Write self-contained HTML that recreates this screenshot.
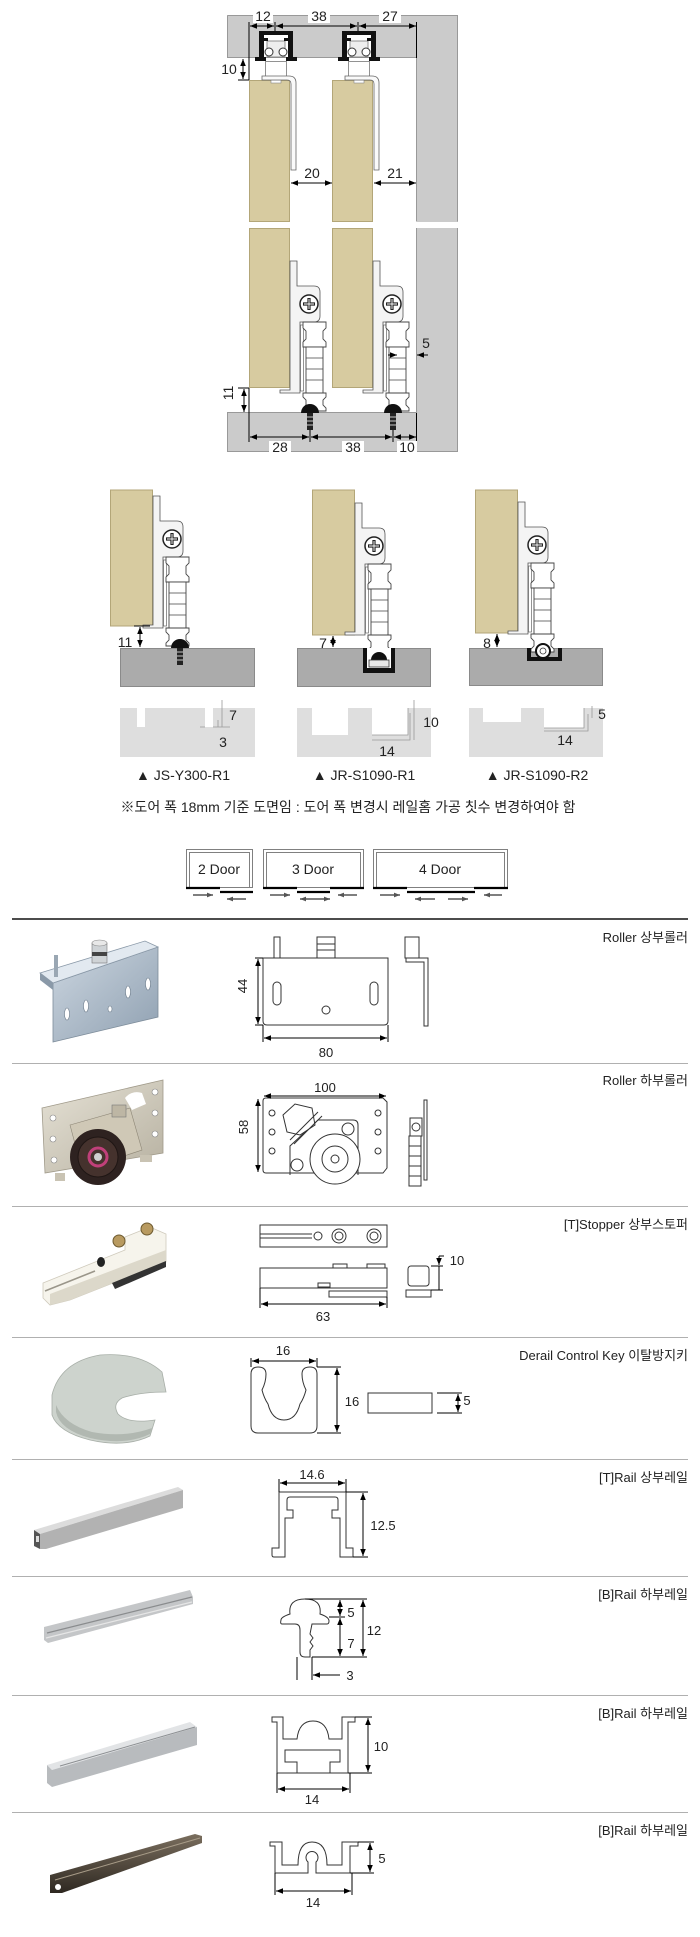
<!DOCTYPE html>
<html><head><meta charset="utf-8"><style>
html,body{margin:0;padding:0;background:#fff;}
svg{display:block;}
text{font-family:"Liberation Sans","Noto Sans CJK KR",sans-serif;fill:#222;}
</style></head><body>
<svg width="700" height="1937" viewBox="0 0 700 1937" xmlns="http://www.w3.org/2000/svg">
<defs>
<marker id="ah" viewBox="0 0 10 10" refX="10" refY="5" markerWidth="7" markerHeight="7" orient="auto-start-reverse" markerUnits="userSpaceOnUse"><path d="M0,1 L10,5 L0,9 z" fill="#000"/></marker>
<marker id="ag" viewBox="0 0 10 10" refX="10" refY="5" markerWidth="7" markerHeight="6" orient="auto-start-reverse" markerUnits="userSpaceOnUse"><path d="M0,1 L10,5 L0,9 z" fill="#555"/></marker>
<linearGradient id="steel" x1="0" y1="0" x2="1" y2="1"><stop offset="0" stop-color="#ccd6e0"/><stop offset="1" stop-color="#8fa0b1"/></linearGradient>
<linearGradient id="beige" x1="0" y1="0" x2="1" y2="1"><stop offset="0" stop-color="#e6e2d6"/><stop offset="1" stop-color="#b7b1a1"/></linearGradient>
<linearGradient id="bronze" x1="0" y1="0" x2="0" y2="1"><stop offset="0" stop-color="#7a6e5e"/><stop offset="1" stop-color="#2e2821"/></linearGradient>
<g id="hwM">
 <path d="M0,-152 H7 V-127 H24 Q30,-127 30,-121 V-97 Q30,-91 24,-91 H10 V-20 H-10 V-23 H0 Z" fill="#f4f4f4" stroke="#555" stroke-width="0.8"/>
 <circle cx="19" cy="-109" r="9" fill="#fff" stroke="#222" stroke-width="1.5"/>
 <path d="M19,-115 V-103 M13,-109 H25" stroke="#222" stroke-width="3.2"/>
 <path d="M19,-114 V-104 M14,-109 H24" stroke="#fff" stroke-width="0.9"/>
 <rect x="10.5" y="-88" width="3" height="66" fill="#fff" stroke="#666" stroke-width="0.7"/>
 <path d="M13,-91 H36 V-85 L33,-82 V-74 L36,-71 V-66 H13 V-71 L16,-74 V-82 L13,-85 Z" fill="#fff" stroke="#444" stroke-width="0.9"/>
 <rect x="16" y="-66" width="17" height="46" fill="#fff" stroke="#444" stroke-width="0.9"/>
 <path d="M16,-55 H33 M16,-44 H33 M16,-33 H33" stroke="#444" stroke-width="0.8"/>
 <path d="M13,-20 H36 V-16 L33,-13 V-8 L36,-5 V-2 H13 V-5 L16,-8 V-13 L13,-16 Z" fill="#fff" stroke="#444" stroke-width="0.9"/>
</g>
<g id="rail">
 <rect x="264" y="35" width="24" height="22" fill="#fff"/>
 <rect x="267" y="41" width="18" height="16" fill="#eee" stroke="#777" stroke-width="0.8"/>
 <path d="M259,31 H293 V57 H297 V61 H286 V57 H288 V35 H264 V57 H266 V61 H255 V57 H259 Z" fill="#111"/>
 <rect x="264" y="38" width="4" height="3" fill="#111"/><rect x="284" y="38" width="4" height="3" fill="#111"/>
 <circle cx="269" cy="52" r="4" fill="#fff" stroke="#333"/>
 <circle cx="283" cy="52" r="4" fill="#fff" stroke="#333"/>
 <rect x="265.5" y="61.5" width="21" height="18" fill="#fff" stroke="#777" stroke-width="0.8"/>
 <path d="M262,76 H289 Q296,76 296,83 V170 H291 V84 Q291,80 287,80 H262 Z" fill="#fafafa" stroke="#666" stroke-width="0.8"/>
</g>
</defs>

<!-- ================= TOP DIAGRAM ================= -->
<rect x="227" y="15" width="231" height="43" fill="#cbcbcb"/>
<rect x="417" y="58" width="41" height="164" fill="#cbcbcb"/>
<rect x="417" y="228" width="41" height="185" fill="#cbcbcb"/>
<rect x="227" y="413" width="231" height="39" fill="#cbcbcb"/>
<path d="M227.5,15.5 H457.5 V221.5 M227.5,15.5 V57.5 H416.5 V221.5" fill="none" stroke="#999"/>
<path d="M416.5,228 V412.5 H227.5 V451.5 H457.5 V228" fill="none" stroke="#999"/>

<rect x="249.5" y="80.5" width="40" height="141" fill="#d7cba0" stroke="#b3a678"/>
<rect x="249.5" y="228.5" width="40" height="159" fill="#d7cba0" stroke="#b3a678"/>
<rect x="332.5" y="80.5" width="40" height="141" fill="#d7cba0" stroke="#b3a678"/>
<rect x="332.5" y="228.5" width="40" height="159" fill="#d7cba0" stroke="#b3a678"/>
<rect x="271" y="80" width="10" height="3" fill="#fff" stroke="#888" stroke-width="0.6"/>
<rect x="354" y="80" width="10" height="3" fill="#fff" stroke="#888" stroke-width="0.6"/>

<use href="#rail"/>
<use href="#rail" transform="translate(83,0)"/>

<use href="#hwM" transform="translate(290,413)"/>
<use href="#hwM" transform="translate(373,413)"/>
<path d="M301,413 A9,9 0 0 1 319,413 Z" fill="#111"/>
<rect x="307" y="413" width="6" height="17" fill="#222"/>
<path d="M307,417 H313 M307,421 H313 M307,425 H313" stroke="#fff" stroke-width="0.8"/>
<path d="M384,413 A9,9 0 0 1 402,413 Z" fill="#111"/>
<rect x="390" y="413" width="6" height="17" fill="#222"/>
<path d="M390,417 H396 M390,421 H396 M390,425 H396" stroke="#fff" stroke-width="0.8"/>

<!-- top dims -->
<g stroke="#000" stroke-width="1" fill="none">
<line x1="249" y1="22" x2="249" y2="80"/>
<line x1="275" y1="22" x2="275" y2="31"/>
<line x1="358" y1="22" x2="358" y2="31"/>
<line x1="416.5" y1="22" x2="416.5" y2="58"/>
<line x1="250" y1="26" x2="274" y2="26" marker-start="url(#ah)" marker-end="url(#ah)"/>
<line x1="276" y1="26" x2="357" y2="26" marker-start="url(#ah)" marker-end="url(#ah)"/>
<line x1="359" y1="26" x2="416" y2="26" marker-start="url(#ah)" marker-end="url(#ah)"/>
<line x1="238" y1="80" x2="249" y2="80"/>
<line x1="243" y1="59" x2="243" y2="79" marker-start="url(#ah)" marker-end="url(#ah)"/>
<line x1="291" y1="183" x2="332" y2="183" marker-start="url(#ah)" marker-end="url(#ah)"/>
<line x1="374" y1="183" x2="416" y2="183" marker-start="url(#ah)" marker-end="url(#ah)"/>
<line x1="238" y1="388" x2="249" y2="388"/>
<line x1="244" y1="389" x2="244" y2="412" marker-start="url(#ah)" marker-end="url(#ah)"/>
<line x1="249" y1="388" x2="249" y2="442"/>
<line x1="310" y1="430" x2="310" y2="442"/>
<line x1="393" y1="430" x2="393" y2="442"/>
<line x1="416.5" y1="413" x2="416.5" y2="442"/>
<line x1="250" y1="437" x2="309" y2="437" marker-start="url(#ah)" marker-end="url(#ah)"/>
<line x1="311" y1="437" x2="392" y2="437" marker-start="url(#ah)" marker-end="url(#ah)"/>
<line x1="394" y1="437" x2="416" y2="437" marker-start="url(#ah)" marker-end="url(#ah)"/>
<line x1="388" y1="355" x2="397" y2="355" marker-end="url(#ah)"/>
<line x1="428" y1="355" x2="417" y2="355" marker-end="url(#ah)"/>
</g>
<rect x="253" y="8" width="20" height="15" fill="#fff"/>
<rect x="308" y="8" width="22" height="15" fill="#fff"/>
<rect x="379" y="8" width="22" height="15" fill="#fff"/>
<rect x="269" y="441" width="22" height="11" fill="#fff"/>
<rect x="342" y="441" width="22" height="11" fill="#fff"/>
<rect x="397" y="441" width="20" height="11" fill="#fff"/>
<g font-size="14" text-anchor="middle">
<text x="263" y="21">12</text>
<text x="319" y="21">38</text>
<text x="390" y="21">27</text>
<text x="229" y="74">10</text>
<text x="312" y="178">20</text>
<text x="395" y="178">21</text>
<text x="238" y="398" transform="rotate(-90 233 398)">11</text>
<text x="280" y="452">28</text>
<text x="353" y="452">38</text>
<text x="407" y="452">10</text>
<text x="426" y="348">5</text>
</g>

<!-- ================= MIDDLE DIAGRAMS ================= -->
<!-- blocks -->
<rect x="120.5" y="648.5" width="134" height="38" fill="#ababab" stroke="#8a8a8a"/>
<rect x="297.5" y="648.5" width="133" height="38" fill="#ababab" stroke="#8a8a8a"/>
<rect x="469.5" y="648.5" width="133" height="37" fill="#ababab" stroke="#8a8a8a"/>
<!-- doors -->
<rect x="110.5" y="490" width="42" height="136" fill="#d7cba0" stroke="#b3a678"/>
<rect x="312.5" y="490" width="42" height="145" fill="#d7cba0" stroke="#b3a678"/>
<rect x="475.5" y="490" width="42" height="143" fill="#d7cba0" stroke="#b3a678"/>
<use href="#hwM" transform="translate(153,648)"/>
<use href="#hwM" transform="translate(355,655)"/>
<use href="#hwM" transform="translate(518,654)"/>
<!-- diag1 dome + screw -->
<path d="M171,648 A9,9 0 0 1 189,648 Z" fill="#111"/>
<rect x="177" y="648" width="6" height="17" fill="#222"/>
<path d="M177,652 H183 M177,656 H183 M177,660 H183" stroke="#fff" stroke-width="0.8"/>
<!-- diag2 channel -->
<rect x="363" y="648" width="32" height="25" fill="#111"/>
<rect x="367" y="648" width="24" height="20" fill="#fff"/>
<path d="M371,660 A8,8 0 0 1 387,660 Z" fill="#111"/>
<rect x="369" y="660" width="20" height="7" fill="#e8e8e8" stroke="#333" stroke-width="0.8"/>
<!-- diag3 channel -->
<path d="M527,648 V661 H562 V648 H558 V657 H531 V648 Z" fill="#111"/>
<circle cx="543" cy="651" r="7" fill="#fff" stroke="#111" stroke-width="2"/>
<circle cx="543" cy="651" r="3" fill="#fff" stroke="#333" stroke-width="0.8"/>
<!-- middle dims -->
<g stroke="#000" stroke-width="1">
<line x1="134" y1="626" x2="150" y2="626"/>
<line x1="140" y1="627" x2="140" y2="647" marker-start="url(#ah)" marker-end="url(#ah)"/>
<line x1="333" y1="636" x2="333" y2="647" marker-start="url(#ah)" marker-end="url(#ah)"/>
<line x1="497" y1="634" x2="497" y2="647" marker-start="url(#ah)" marker-end="url(#ah)"/>
</g>
<g font-size="14" text-anchor="middle">
<text x="125" y="647">11</text>
<text x="323" y="648">7</text>
<text x="487" y="648">8</text>
</g>
<!-- profiles -->
<rect x="120" y="708" width="135" height="49" fill="#dedede"/>
<rect x="137" y="708" width="8" height="19" fill="#fff"/>
<rect x="205" y="708" width="8" height="19" fill="#fff"/>
<path d="M213,727 H230 M218,720 V727 M222,700 V727 M205,727 H200" stroke="#999" stroke-width="0.8" fill="none"/>
<rect x="297" y="708" width="134" height="49" fill="#dedede"/>
<rect x="312" y="708" width="36" height="27" fill="#fff"/>
<rect x="372" y="708" width="36" height="27" fill="#fff"/>
<path d="M372,735 H408 V708 M372,740 H410 V713 M414,700 V740" stroke="#999" stroke-width="0.8" fill="none"/>
<rect x="469" y="708" width="134" height="49" fill="#dedede"/>
<rect x="483" y="708" width="38" height="14" fill="#fff"/>
<rect x="544" y="708" width="40" height="20" fill="#fff"/>
<path d="M544,728 H584 V708 M544,731 H588 V714 M592,706 V718" stroke="#999" stroke-width="0.8" fill="none"/>
<g font-size="14" text-anchor="middle">
<text x="233" y="720">7</text>
<text x="223" y="747">3</text>
<text x="431" y="727">10</text>
<text x="387" y="756">14</text>
<text x="602" y="719">5</text>
<text x="565" y="745">14</text>
<text x="183" y="780">▲ JS-Y300-R1</text>
<text x="364" y="780">▲ JR-S1090-R1</text>
<text x="537" y="780">▲ JR-S1090-R2</text>
<text x="348" y="812">※도어 폭 18mm 기준 도면임 : 도어 폭 변경시 레일홈 가공 칫수 변경하여야 함</text>
</g>

<!-- ================= DOOR TYPES ================= -->
<g fill="none" stroke="#808080" stroke-width="1">
<rect x="186.5" y="849.5" width="66" height="38"/>
<path d="M189.5,887 V852.5 H249.5 V887"/>
<rect x="263.5" y="849.5" width="100" height="38"/>
<path d="M266.5,887 V852.5 H360.5 V887"/>
<rect x="373.5" y="849.5" width="134" height="38"/>
<path d="M376.5,887 V852.5 H504.5 V887"/>
</g>
<g stroke="#000" stroke-width="2.2">
<line x1="186" y1="888" x2="220" y2="888"/><line x1="220" y1="892" x2="253" y2="892"/>
<line x1="263" y1="888" x2="297" y2="888"/><line x1="297" y1="892" x2="330" y2="892"/><line x1="330" y1="888" x2="364" y2="888"/>
<line x1="373" y1="888" x2="407" y2="888"/><line x1="407" y1="892" x2="475" y2="892"/><line x1="474" y1="888" x2="508" y2="888"/>
</g>
<g stroke="#555" stroke-width="1.6">
<line x1="193" y1="895" x2="213" y2="895" marker-end="url(#ag)"/>
<line x1="246" y1="899" x2="227" y2="899" marker-end="url(#ag)"/>
<line x1="270" y1="895" x2="290" y2="895" marker-end="url(#ag)"/>
<line x1="300" y1="899" x2="330" y2="899" marker-start="url(#ag)" marker-end="url(#ag)"/>
<line x1="357" y1="895" x2="338" y2="895" marker-end="url(#ag)"/>
<line x1="380" y1="895" x2="400" y2="895" marker-end="url(#ag)"/>
<line x1="435" y1="899" x2="415" y2="899" marker-end="url(#ag)"/>
<line x1="448" y1="899" x2="468" y2="899" marker-end="url(#ag)"/>
<line x1="502" y1="895" x2="484" y2="895" marker-end="url(#ag)"/>
</g>
<g font-size="14" text-anchor="middle">
<text x="219" y="874">2 Door</text>
<text x="313" y="874">3 Door</text>
<text x="440" y="874">4 Door</text>
</g>

<!-- ================= TABLE LINES ================= -->
<line x1="12" y1="919" x2="688" y2="919" stroke="#111" stroke-width="1.5"/>
<g stroke="#b0b0b0" stroke-width="1">
<line x1="12" y1="1063.5" x2="688" y2="1063.5"/>
<line x1="12" y1="1206.5" x2="688" y2="1206.5"/>
<line x1="12" y1="1337.5" x2="688" y2="1337.5"/>
<line x1="12" y1="1459.5" x2="688" y2="1459.5"/>
<line x1="12" y1="1576.5" x2="688" y2="1576.5"/>
<line x1="12" y1="1695.5" x2="688" y2="1695.5"/>
<line x1="12" y1="1812.5" x2="688" y2="1812.5"/>
</g>
<g font-size="13" text-anchor="end" style="fill:#333">
<text x="688" y="942">Roller 상부롤러</text>
<text x="688" y="1085">Roller 하부롤러</text>
<text x="688" y="1229">[T]Stopper 상부스토퍼</text>
<text x="688" y="1360">Derail Control Key 이탈방지키</text>
<text x="688" y="1482">[T]Rail 상부레일</text>
<text x="688" y="1599">[B]Rail 하부레일</text>
<text x="688" y="1718">[B]Rail 하부레일</text>
<text x="688" y="1835">[B]Rail 하부레일</text>
</g>

<!-- ================= PHOTOS ================= -->
<!-- roller 1 -->
<polygon points="53,983 158,947 158,1017 53,1042" fill="url(#steel)" stroke="#7d8c9a" stroke-width="0.8"/>
<polygon points="40,973 145,941 158,947 53,983" fill="#e2e9f0" stroke="#8a99a8" stroke-width="0.8"/>
<polygon points="40,973 53,983 53,990 40,980" fill="#8a99a8"/>
<g fill="#fff" stroke="#6c7b8a" stroke-width="0.6">
<ellipse cx="67" cy="1014" rx="2.5" ry="6"/><ellipse cx="86" cy="1006" rx="2.5" ry="6"/>
<ellipse cx="128" cy="992" rx="2.5" ry="6"/><ellipse cx="148" cy="984" rx="2.5" ry="6"/>
<ellipse cx="110" cy="1009" rx="2" ry="3"/>
</g>
<rect x="54" y="955" width="4" height="22" fill="#9aa7b3"/>
<rect x="92" y="943" width="15" height="20" fill="#cfd3d6" stroke="#777" stroke-width="0.6"/>
<rect x="92" y="952" width="15" height="4" fill="#444"/>
<ellipse cx="99.5" cy="943" rx="7.5" ry="3" fill="#e8e8e8" stroke="#888" stroke-width="0.6"/>
<!-- roller 2 -->
<polygon points="42,1108 163,1080 163,1153 45,1173" fill="url(#beige)" stroke="#a09a8a" stroke-width="0.8"/>
<path d="M125,1098 Q132,1090 142,1093 L146,1104 L132,1110 Z" fill="#fff"/>
<g fill="#fff" stroke="#888" stroke-width="0.6">
<circle cx="53" cy="1118" r="3"/><circle cx="53" cy="1139" r="3"/><circle cx="54" cy="1160" r="3"/>
<circle cx="155" cy="1092" r="3"/><circle cx="155" cy="1113" r="3"/><circle cx="155" cy="1134" r="3"/>
</g>
<polygon points="70,1125 130,1108 142,1150 82,1170" fill="#cfc8b6" stroke="#8d8676" stroke-width="0.6"/>
<rect x="112" y="1105" width="14" height="12" fill="#bdb6a4" stroke="#777" stroke-width="0.6"/>
<rect x="55" y="1173" width="10" height="8" fill="#c9c3b3"/>
<rect x="140" y="1155" width="12" height="7" fill="#c9c3b3"/>
<circle cx="98" cy="1157" r="28" fill="#2e2220"/>
<circle cx="98" cy="1157" r="20" fill="#45322d" stroke="#1f1614"/>
<circle cx="98" cy="1157" r="9" fill="none" stroke="#c0407a" stroke-width="3"/>
<circle cx="98" cy="1157" r="4" fill="#cfcfcf"/>
<!-- stopper -->
<polygon points="43,1283 125,1250 125,1237 150,1227 166,1234 166,1262 70,1300 50,1305 43,1298" fill="#f6f4ec" stroke="#cfcabc" stroke-width="0.8"/>
<polygon points="50,1294 166,1250 166,1262 70,1300 50,1305" fill="#dcd8ca"/>
<line x1="45" y1="1291" x2="95" y2="1271" stroke="#9a968a" stroke-width="1.5"/>
<ellipse cx="101" cy="1262" rx="4" ry="5" fill="#222"/>
<polygon points="112,1283 166,1261 166,1267 115,1289" fill="#333"/>
<circle cx="119" cy="1241" r="6" fill="#b89a60" stroke="#6d5a30"/>
<circle cx="147" cy="1229" r="6" fill="#b89a60" stroke="#6d5a30"/>
<!-- key -->
<path d="M52,1395 Q60,1362 100,1355 Q140,1352 162,1372 L166,1392 Q140,1392 122,1398 Q112,1404 118,1414 Q128,1424 155,1420 L150,1436 Q125,1448 90,1440 Q58,1432 52,1415 Z" fill="#cdd3cd" stroke="#a7aea7" stroke-width="0.8"/>
<path d="M56,1412 Q60,1430 90,1438 Q125,1446 150,1434 L152,1428 Q125,1438 92,1432 Q64,1424 56,1405 Z" fill="#b1b8b1"/>
<!-- rail photos -->
<polygon points="34,1530 178,1487 183,1490 40,1534" fill="#dcdcdc"/>
<polygon points="40,1534 183,1490 183,1508 46,1549 40,1549" fill="#b2b2b2"/>
<polygon points="34,1530 40,1534 40,1549 34,1546" fill="#555"/>
<rect x="36" y="1536" width="3" height="6" fill="#ddd"/>
<polygon points="44,1627 190,1590 193,1597 193,1604 48,1643 44,1640" fill="#c4c6c8"/>
<line x1="47" y1="1633" x2="192" y2="1597" stroke="#8a8c8e" stroke-width="1.2"/>
<line x1="46" y1="1638" x2="192" y2="1602" stroke="#e6e6e6" stroke-width="1.2"/>
<polygon points="47,1765 190,1722 197,1727 52,1770" fill="#e2e4e6"/>
<polygon points="52,1770 197,1727 197,1745 52,1787 47,1783 47,1765" fill="#b8bbbe"/>
<line x1="60" y1="1766" x2="195" y2="1727" stroke="#8c8f92" stroke-width="1"/>
<polygon points="50,1875 195,1834 202,1836 202,1843 62,1893 50,1893" fill="url(#bronze)"/>
<line x1="55" y1="1880" x2="200" y2="1838" stroke="#a89c88" stroke-width="1"/>
<circle cx="58" cy="1887" r="3" fill="#fff"/>

<!-- ================= DRAWINGS ================= -->
<g fill="#fff" stroke="#333" stroke-width="1">
<!-- roller 1 -->
<rect x="274" y="937" width="6" height="21"/>
<rect x="317" y="937" width="18" height="21"/>
<path d="M317,944 H335 M317,950 H335" fill="none"/>
<path d="M263,958 H388 V1021 Q388,1025 384,1025 H267 Q263,1025 263,1021 Z"/>
<rect x="273" y="982" width="8" height="23" rx="4"/>
<rect x="370" y="982" width="8" height="23" rx="4"/>
<circle cx="326" cy="1010" r="4"/>
<rect x="405" y="937" width="14" height="21"/>
<path d="M406,958 H428 V1026 H424 V962 H406 Z"/>
<!-- roller 2 -->
<path d="M263,1101 Q263,1098 266,1098 H383 L387,1102 V1168 L383,1173 H266 Q263,1173 263,1170 Z"/>
<path d="M290,1175 V1146 L318,1120 H353 Q358,1120 358,1125 V1175" fill="none"/>
<polygon points="283,1115 295,1104 312,1108 315,1125 300,1135 287,1132"/>
<path d="M290,1140 L318,1112 M294,1144 L322,1116" fill="none"/>
<circle cx="348" cy="1129" r="6"/>
<circle cx="297" cy="1165" r="6"/>
<circle cx="335" cy="1159" r="25"/>
<circle cx="335" cy="1159" r="13"/>
<circle cx="335" cy="1159" r="4"/>
<circle cx="272" cy="1113" r="3"/><circle cx="272" cy="1132" r="3"/><circle cx="272" cy="1151" r="3"/>
<circle cx="378" cy="1113" r="3"/><circle cx="378" cy="1132" r="3"/><circle cx="378" cy="1151" r="3"/>
<rect x="424" y="1100" width="3" height="80"/>
<rect x="410" y="1118" width="12" height="18"/>
<circle cx="416" cy="1127" r="4"/>
<rect x="409" y="1136" width="12" height="50"/>
<path d="M409,1146 H421 M409,1156 H421 M409,1166 H421 M409,1176 H421" fill="none"/>
<!-- stopper -->
<rect x="260" y="1225" width="127" height="22"/>
<path d="M260,1234 H312 M260,1238 H312" fill="none"/>
<circle cx="318" cy="1236" r="4"/>
<circle cx="339" cy="1236" r="7"/><circle cx="339" cy="1236" r="4"/>
<circle cx="374" cy="1236" r="7"/><circle cx="374" cy="1236" r="4"/>
<rect x="333" y="1264" width="14" height="4"/>
<rect x="367" y="1264" width="18" height="4"/>
<rect x="260" y="1268" width="127" height="20"/>
<rect x="318" y="1283" width="12" height="4"/>
<rect x="329" y="1291" width="58" height="6"/>
<rect x="408" y="1266" width="21" height="20" rx="3"/>
<rect x="406" y="1290" width="25" height="7"/>
<!-- key -->
<path d="M251,1374 Q251,1367 258,1367 Q266,1367 266,1374 Q266,1382 262,1390 Q264,1398 268,1404 Q272,1420 284,1420 Q296,1420 300,1404 Q304,1398 306,1390 Q302,1382 302,1374 Q302,1367 310,1367 Q317,1367 317,1374 V1426 Q317,1433 310,1433 H258 Q251,1433 251,1426 Z"/>
<rect x="368" y="1393" width="64" height="20"/>
<!-- T rail -->
<path d="M279,1492 H346 V1548 H353 V1557 H340 V1518 H332 V1510 H338 V1500 Q338,1497 335,1497 H290 Q287,1497 287,1500 V1510 H293 V1518 H285 V1557 H274 Q272,1557 272,1555 V1548 H279 Z"/>
<!-- B rail 1 -->
<path d="M282,1624 H295 Q300,1624 300,1630 V1652 Q300,1657 305,1657 H310 V1650 L313,1646 L310,1642 L313,1638 L310,1634 L312,1624 H327 Q329,1624 329,1621 Q329,1617 320,1614 Q322,1599 305,1599 Q288,1599 290,1614 Q281,1617 281,1620 Q280,1624 282,1624 Z"/>
<!-- B rail 2 -->
<path d="M272,1717 H283 V1739 H297 Q299,1721 313,1721 Q327,1721 329,1739 H342 V1717 H355 V1722 H348 V1773 H277 V1722 H272 Z"/>
<path d="M297,1773 V1762 H285 V1750 H340 V1762 H330 V1773" fill="none"/>
<!-- B rail 3 -->
<path d="M270,1842 H282 V1865 H298 Q298,1842 312,1842 Q327,1842 327,1865 H342 V1842 H358 V1846 H350 V1873 H316 V1862 A6,6 0 1 0 308,1862 V1873 H275 V1846 H270 Z"/>
</g>

<!-- drawing dims -->
<g stroke="#000" stroke-width="1" fill="none">
<line x1="258" y1="959" x2="258" y2="1024" marker-start="url(#ah)" marker-end="url(#ah)"/>
<line x1="255" y1="958" x2="263" y2="958"/><line x1="255" y1="1025" x2="263" y2="1025"/>
<line x1="263" y1="1025" x2="263" y2="1042"/><line x1="388" y1="1025" x2="388" y2="1042"/>
<line x1="264" y1="1038" x2="387" y2="1038" marker-start="url(#ah)" marker-end="url(#ah)"/>
<line x1="264" y1="1096" x2="386" y2="1096" marker-start="url(#ah)" marker-end="url(#ah)"/>
<line x1="258" y1="1099" x2="258" y2="1172" marker-start="url(#ah)" marker-end="url(#ah)"/>
<line x1="260" y1="1288" x2="260" y2="1308"/><line x1="387" y1="1297" x2="387" y2="1308"/>
<line x1="261" y1="1304" x2="386" y2="1304" marker-start="url(#ah)" marker-end="url(#ah)"/>
<line x1="431" y1="1266" x2="443" y2="1266"/><line x1="431" y1="1290" x2="443" y2="1290"/>
<line x1="439" y1="1256" x2="439" y2="1265" marker-end="url(#ah)"/>
<line x1="439" y1="1266" x2="439" y2="1290"/>
<line x1="439" y1="1256" x2="444" y2="1256"/>
<line x1="251" y1="1358" x2="251" y2="1367"/><line x1="317" y1="1358" x2="317" y2="1367"/>
<line x1="252" y1="1361" x2="316" y2="1361" marker-start="url(#ah)" marker-end="url(#ah)"/>
<line x1="317" y1="1367" x2="341" y2="1367"/><line x1="317" y1="1433" x2="341" y2="1433"/>
<line x1="337" y1="1368" x2="337" y2="1432" marker-start="url(#ah)" marker-end="url(#ah)"/>
<line x1="437" y1="1393" x2="462" y2="1393"/><line x1="437" y1="1413" x2="462" y2="1413"/>
<line x1="458" y1="1394" x2="458" y2="1412" marker-start="url(#ah)" marker-end="url(#ah)"/>
<line x1="279" y1="1479" x2="279" y2="1492"/><line x1="346" y1="1479" x2="346" y2="1492"/>
<line x1="280" y1="1483" x2="345" y2="1483" marker-start="url(#ah)" marker-end="url(#ah)"/>
<line x1="346" y1="1492" x2="368" y2="1492"/><line x1="353" y1="1557" x2="368" y2="1557"/>
<line x1="363" y1="1493" x2="363" y2="1556" marker-start="url(#ah)" marker-end="url(#ah)"/>
<line x1="305" y1="1599" x2="367" y2="1599"/><line x1="312" y1="1657" x2="367" y2="1657"/>
<line x1="329" y1="1617" x2="345" y2="1617"/>
<line x1="340" y1="1600" x2="340" y2="1616" marker-start="url(#ah)" marker-end="url(#ah)"/>
<line x1="340" y1="1618" x2="340" y2="1656" marker-start="url(#ah)" marker-end="url(#ah)"/>
<line x1="363" y1="1600" x2="363" y2="1656" marker-start="url(#ah)" marker-end="url(#ah)"/>
<line x1="297" y1="1657" x2="297" y2="1680"/><line x1="312" y1="1657" x2="312" y2="1680"/>
<line x1="340" y1="1675" x2="313" y2="1675" marker-end="url(#ah)"/>
<line x1="355" y1="1717" x2="372" y2="1717"/><line x1="348" y1="1773" x2="372" y2="1773"/>
<line x1="368" y1="1718" x2="368" y2="1772" marker-start="url(#ah)" marker-end="url(#ah)"/>
<line x1="277" y1="1773" x2="277" y2="1793"/><line x1="350" y1="1773" x2="350" y2="1793"/>
<line x1="278" y1="1789" x2="349" y2="1789" marker-start="url(#ah)" marker-end="url(#ah)"/>
<line x1="358" y1="1842" x2="374" y2="1842"/><line x1="350" y1="1873" x2="374" y2="1873"/>
<line x1="370" y1="1843" x2="370" y2="1872" marker-start="url(#ah)" marker-end="url(#ah)"/>
<line x1="275" y1="1873" x2="275" y2="1895"/><line x1="352" y1="1873" x2="352" y2="1895"/>
<line x1="276" y1="1891" x2="351" y2="1891" marker-start="url(#ah)" marker-end="url(#ah)"/>
</g>
<g font-size="13" text-anchor="middle">
<text x="252" y="991" transform="rotate(-90 247 991)">44</text>
<text x="326" y="1057">80</text>
<text x="325" y="1092">100</text>
<text x="253" y="1132" transform="rotate(-90 248 1132)">58</text>
<text x="323" y="1321">63</text>
<text x="457" y="1265">10</text>
<text x="283" y="1355">16</text>
<text x="352" y="1406">16</text>
<text x="467" y="1405">5</text>
<text x="312" y="1479">14.6</text>
<text x="383" y="1530">12.5</text>
<text x="351" y="1617">5</text>
<text x="351" y="1648">7</text>
<text x="374" y="1635">12</text>
<text x="350" y="1680">3</text>
<text x="381" y="1751">10</text>
<text x="312" y="1804">14</text>
<text x="382" y="1863">5</text>
<text x="313" y="1907">14</text>
</g>
</svg>
</body></html>
